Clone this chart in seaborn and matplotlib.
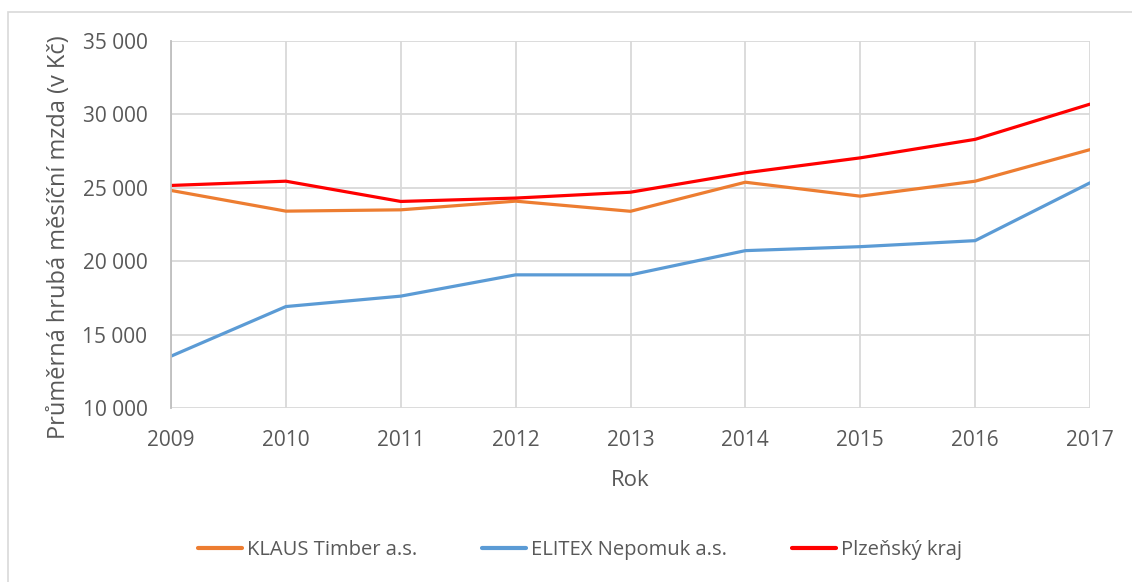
import matplotlib
matplotlib.use("Agg")
import matplotlib.pyplot as plt
from matplotlib.patches import Rectangle
from matplotlib.lines import Line2D
from matplotlib.ticker import FuncFormatter
import seaborn as sns
import pandas as pd

years = [2009, 2010, 2011, 2012, 2013, 2014, 2015, 2016, 2017]
klaus = [24820, 23410, 23500, 24090, 23400, 25380, 24430, 25450, 27600]
elitex = [13530, 16910, 17620, 19070, 19070, 20720, 20990, 21400, 25340]
plzen = [25160, 25450, 24070, 24300, 24700, 26020, 27040, 28300, 30700]
series_names = ["KLAUS Timber a.s.", "ELITEX Nepomuk a.s.", "Plzeňský kraj"]
colors = ["#ED7D31", "#5B9BD5", "#FF0000"]

df = pd.concat([
    pd.DataFrame({"Rok": years, "Mzda": vals, "Serie": name})
    for name, vals in zip(series_names, [klaus, elitex, plzen])
])

sns.set_theme(style="white")
plt.rcParams["font.family"] = ["Open Sans", "DejaVu Sans"]
txt = "#595959"
W, H = 1132, 582

fig = plt.figure(figsize=(W/100, H/100), dpi=100)
ax = fig.add_axes([171/W, 1-408/H, (1090-171)/W, (408-41)/H])

sns.lineplot(data=df, x="Rok", y="Mzda", hue="Serie", palette=dict(zip(series_names, colors)),
             linewidth=2.3, ax=ax, legend=False)

ax.set_xlim(2009, 2017)
ax.set_ylim(10000, 35000)
ax.set_xticks(years)
ax.set_yticks(range(10000, 35001, 5000))
ax.yaxis.set_major_formatter(FuncFormatter(lambda v, p: f"{int(v):,}".replace(",", " ")))
ax.grid(True, color="#d9d9d9", linewidth=1.3)
ax.set_axisbelow(True)
for s in ["top", "right", "bottom"]:
    ax.spines[s].set_visible(False)
ax.spines["left"].set_color("#bfbfbf")
ax.spines["left"].set_linewidth(1.3)
ax.tick_params(axis="both", length=0, labelsize=15, colors=txt)
ax.tick_params(axis="y", pad=17)
ax.tick_params(axis="x", pad=16)
ax.set_xlabel("")
ax.set_ylabel("")
fig.text(630/W, 1-480/H, "Rok", fontsize=16, color=txt, ha="center", va="center")
fig.text(59/W, 1-237/H, "Průměrná hrubá měsíční mzda (v Kč)", fontsize=17, color=txt,
         ha="center", va="center", rotation=90)

handles = [Line2D([0], [0], color=c, linewidth=3) for c in colors]
fig.legend(handles, series_names, loc="center", bbox_to_anchor=(580/W, 1-550/H),
           ncol=3, frameon=False, fontsize=14.5, labelcolor=txt, handlelength=2.2,
           handletextpad=0.25, columnspacing=3.2)

fig.add_artist(Rectangle((8/W, -0.05), 1.1, (H-12)/H + 0.05, transform=fig.transFigure,
                         fill=False, edgecolor="#d9d9d9", linewidth=1.2))

fig.savefig("out.png", dpi=100, facecolor="white")
